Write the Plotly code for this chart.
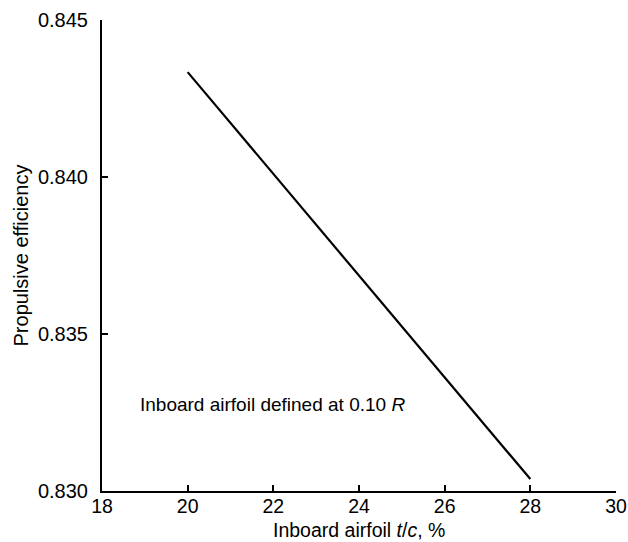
import plotly.graph_objects as go

# Data
tc_percent = [20, 28]
propulsive_efficiency = [0.84334, 0.83038]
x_ticks = [18, 20, 22, 24, 26, 28, 30]
y_ticks = [0.830, 0.835, 0.840, 0.845]
y_tick_labels = ["0.830", "0.835", "0.840", "0.845"]

FONT = "Liberation Sans, Arial, Helvetica, sans-serif"

fig = go.Figure()
fig.add_trace(go.Scatter(
    x=tc_percent, y=propulsive_efficiency, mode="lines",
    line=dict(color="black", width=2.2), showlegend=False,
))

fig.update_layout(
    template="none",
    width=628, height=542,
    margin=dict(l=102, r=12, t=20, b=51, autoexpand=False),
    paper_bgcolor="white", plot_bgcolor="white",
    font=dict(family=FONT, size=20, color="black"),
    xaxis=dict(
        automargin=False,
        range=[18, 30], tickvals=x_ticks, ticks="inside", ticklen=6,
        tickwidth=1.5, tickcolor="black", showline=True, linecolor="black",
        linewidth=2, showgrid=False, zeroline=False,
        tickfont=dict(size=19.5), ticklabelstandoff=-3,
    ),
    yaxis=dict(
        automargin=False,
        range=[0.830, 0.845], tickvals=y_ticks, ticktext=y_tick_labels,
        ticks="inside", ticklen=6, tickwidth=1.5, tickcolor="black",
        showline=True, linecolor="black", linewidth=2, showgrid=False,
        zeroline=False, tickfont=dict(size=20), ticklabelstandoff=8,
        title=dict(text="Propulsive efficiency", font=dict(size=20), standoff=4),
    ),
    annotations=[
        dict(text="Inboard airfoil <i>t</i>/<i>c</i>, %", x=0.5, y=-(530 - 491) / 471,
             xref="paper", yref="paper", xanchor="center", yanchor="middle",
             showarrow=False, font=dict(size=19.5)),
        dict(text="Inboard airfoil defined at 0.10 <i>R</i>", x=18.84, y=0.83274,
             xref="x", yref="y", xanchor="left", showarrow=False,
             font=dict(size=19)),
    ],
)
fig.write_html("out.html",
               config={"displayModeBar": False},
               post_script="document.body.style.margin='0';document.body.style.overflow='hidden';")
